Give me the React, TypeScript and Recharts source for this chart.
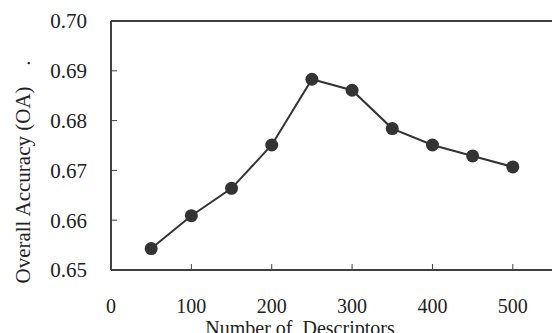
import React from "react";
import {
  LineChart,
  Line,
  XAxis,
  YAxis,
  ReferenceLine,
  Label,
} from "recharts";

const descriptors = [50, 100, 150, 200, 250, 300, 350, 400, 450, 500];
const overallAccuracy = [
  0.6543, 0.6609, 0.6664, 0.6751, 0.6883, 0.6861, 0.6784, 0.6751, 0.6729,
  0.6707,
];
const xTicks = [0, 100, 200, 300, 400, 500];
const yTicks = [0.65, 0.66, 0.67, 0.68, 0.69, 0.7];

const data = descriptors.map((n, i) => ({ n, oa: overallAccuracy[i] }));

const FONT = "Liberation Serif, DejaVu Serif, serif";
const INK = "#333333";
const AXIS = "#404040";

const textStyle = { fontFamily: FONT, fontSize: 21 };

function YTick(props: any) {
  const { x, y, payload } = props;
  const axisX = x + 24;
  return (
    <g>
      {payload.value > 0.65 && payload.value < 0.7 && (
        <line x1={axisX} y1={y} x2={axisX + 6} y2={y} stroke={AXIS} strokeWidth={1} />
      )}
      <text x={x} y={y} dy="0.35em" textAnchor="end" fill="#222" style={textStyle}>
        {Number(payload.value).toFixed(2)}
      </text>
    </g>
  );
}

function XTick(props: any) {
  const { x, y, payload } = props;
  const axisY = y - 33;
  return (
    <g>
      {payload.value > 0 && (
        <line x1={x} y1={axisY} x2={x} y2={axisY - 6} stroke={AXIS} strokeWidth={1} />
      )}
      <text
        x={x}
        y={axisY + 43}
        textAnchor="middle"
        fill="#222"
        style={{ ...textStyle, fontSize: 20 }}
      >
        {payload.value}
      </text>
    </g>
  );
}

export default function App() {
  return (
    <div
      style={{
        position: "absolute",
        left: 0,
        top: 0,
        width: 552,
        height: 333,
        overflow: "hidden",
        background: "#fff",
      }}
    >
      <LineChart
        width={560}
        height={333}
        data={data}
        margin={{ top: 21, right: 7, bottom: 0, left: 0 }}
      >
        <XAxis
          dataKey="n"
          type="number"
          domain={[0, 550]}
          ticks={xTicks}
          interval={0}
          height={63}
          tickSize={0}
          tickMargin={33}
          tick={<XTick />}
          axisLine={{ stroke: AXIS, strokeWidth: 2 }}
        >
          <Label
            content={() => (
              <text
                x={300}
                y={335}
                textAnchor="middle"
                fill="#222"
                style={{ ...textStyle, fontSize: 20, whiteSpace: "pre" }}
              >
                {"Number of  Descriptors"}
              </text>
            )}
          />
        </XAxis>
        <YAxis
          type="number"
          domain={[0.65, 0.7]}
          ticks={yTicks}
          interval={0}
          width={111}
          tickSize={0}
          tickMargin={24}
          tick={<YTick />}
          axisLine={{ stroke: AXIS, strokeWidth: 2 }}
        >
          <Label
            content={() => (
              <g fill="#222" style={textStyle}>
                <text x={0} y={0} transform="translate(30, 185) rotate(-90)" textAnchor="middle">
                  Overall Accuracy (OA)
                </text>
                <text x={0} y={0} transform="translate(30, 63) rotate(-90)" textAnchor="middle">
                  .
                </text>
              </g>
            )}
          />
        </YAxis>
        <ReferenceLine y={0.7} stroke={AXIS} strokeWidth={2} ifOverflow="visible" />
        <Line
          dataKey="oa"
          stroke={INK}
          strokeWidth={2}
          dot={{ r: 6.5, fill: INK, stroke: INK, strokeWidth: 0 }}
          isAnimationActive={false}
        />
      </LineChart>
    </div>
  );
}
